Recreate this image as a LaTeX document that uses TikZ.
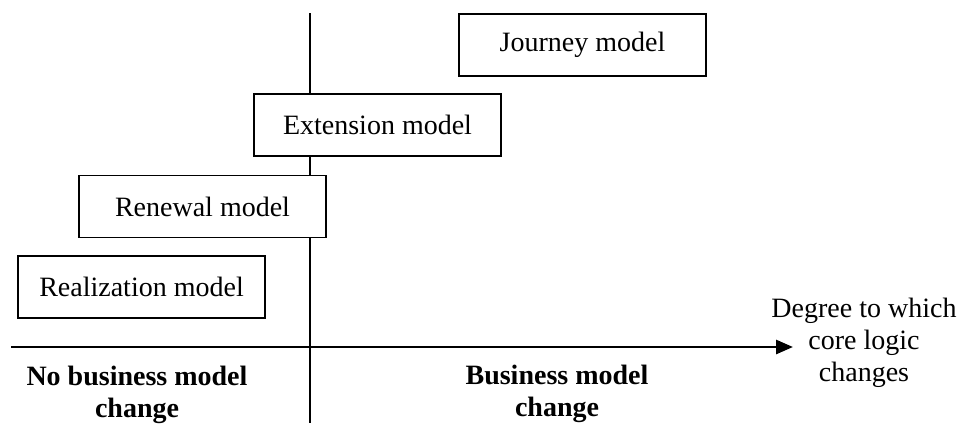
\documentclass[tikz,border=0pt]{standalone}
\usepackage{fontspec}
\setmainfont{Liberation Serif}
\usetikzlibrary{arrows.meta}
\begin{document}
\begin{tikzpicture}[x=1pt,y=-1pt,
  modelbox/.style={draw,fill=white,line width=1.8pt,minimum width=247pt,minimum height=62pt,inner sep=0pt,
    font=\fontsize{28}{32}\selectfont},
  axislabel/.style={align=center,font=\fontsize{28}{32}\selectfont},
  boldlabel/.style={axislabel,font=\fontsize{28}{32}\selectfont\bfseries},
  axisline/.style={line width=2.8pt},
  divider/.style={line width=1.6pt}]
  \useasboundingbox (0,0) rectangle (966,423);
  % dividing line between the two regions
  \coordinate (dtop) at (310,13);
  \coordinate (dbot) at (310,423);
  \draw[divider] (dtop) -- (dbot);
  % horizontal axis
  \coordinate (axstart) at (11,347);
  \coordinate (axend) at (793,347);
  \draw[axisline,-{Triangle[length=17pt,width=14pt]}] (axstart) -- (axend);
  % model boxes
  \node[modelbox] (journey) at (582.5,45) {Journey model};
  \node[modelbox] (extension) at (377.5,125) {Extension model};
  \node[modelbox] (renewal) at (202.5,206.5) {Renewal model};
  \node[modelbox] (realization) at (141.5,287) {Realization model};
  % labels
  \node[axislabel] (degree) at (864,343) {Degree to which\\core logic\\changes};
  \node[boldlabel] (nochange) at (137,395) {No business model\\change};
  \node[boldlabel] (change) at (557,394) {Business model\\change};
\end{tikzpicture}
\end{document}
